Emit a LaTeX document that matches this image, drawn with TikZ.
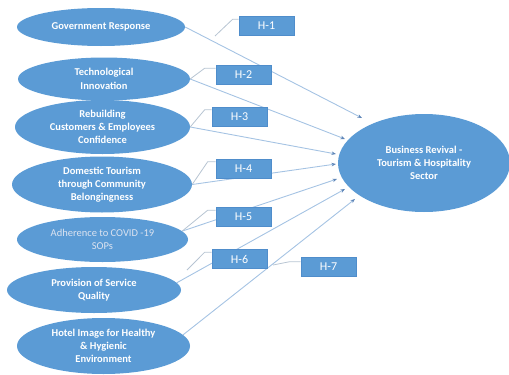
\documentclass[tikz,border=0pt]{standalone}
\usepackage{fontspec}
\setmainfont{Carlito}
\usetikzlibrary{shapes.geometric,arrows.meta,backgrounds}

\definecolor{shapeblue}{HTML}{5B9BD5}
\definecolor{shapeedge}{HTML}{4F8DCB}
\definecolor{linkblue}{HTML}{A5C3E3}
\definecolor{headblue}{HTML}{5F86B8}
\definecolor{leadergrey}{HTML}{B7C4D2}
\definecolor{paletext}{HTML}{DCE3F0}

\begin{document}
\begin{tikzpicture}[x=1pt,y=-1pt,
  factor/.style={ellipse, fill=shapeblue, inner sep=0pt, text=white, align=center,
    font=\fontsize{10.5}{13.3}\selectfont\bfseries},
  hbox/.style={rectangle, fill=shapeblue, draw=shapeedge, line width=0.6pt,
    minimum width=55pt, minimum height=19pt, inner sep=0pt, text=white,
    font=\fontsize{12}{14}\selectfont},
  link/.style={draw=linkblue, line width=0.9pt,
    -{Stealth[length=4.5pt,width=3.5pt,color=headblue]}},
  leader/.style={draw=leadergrey, line width=0.8pt}]

\useasboundingbox (0,0) rectangle (509,375);

% factors on the left
\node[factor, minimum width=168pt, minimum height=38pt] (e1) at (101,27) {Government Response};
\node[factor, minimum width=172pt, minimum height=43pt] (e2) at (104,79) {Technological\\Innovation};
\node[factor, minimum width=175pt, minimum height=54pt] (e3) at (102.5,127) {Rebuilding\\Customers \& Employees\\Confidence};
\node[factor, minimum width=180pt, minimum height=56pt] (e4) at (102,184.5) {Domestic Tourism\\through Community\\Belongingness};
\node[factor, minimum width=171pt, minimum height=45pt, text=paletext,
      font=\fontsize{10.5}{13.3}\selectfont] (e5) at (102.5,239.5) {Adherence to COVID -19\\SOPs};
\node[factor, minimum width=174pt, minimum height=46pt] (e6) at (94,290) {Provision of Service\\Quality};
\node[factor, minimum width=173pt, minimum height=56pt] (e7) at (103.5,346) {Hotel Image for Healthy\\\& Hygienic\\Environment};

% outcome
\node[factor, minimum width=172pt, minimum height=98pt] (big) at (424,163) {Business Revival -\\Tourism \& Hospitality\\Sector};

% hypothesis labels
\node[hbox] (h1) at (266.5,26) {H-1};
\node[hbox] (h2) at (243.5,75) {H-2};
\node[hbox] (h3) at (239.5,116.5) {H-3};
\node[hbox] (h4) at (243.5,168.5) {H-4};
\node[hbox] (h5) at (243.5,217) {H-5};
\node[hbox] (h6) at (239.5,259) {H-6};
\node[hbox] (h7) at (328.5,266.5) {H-7};

% arrow tips and free leader ends
\coordinate (t1) at (362,118);
\coordinate (t2) at (345,139);
\coordinate (t3) at (336,154);
\coordinate (t4) at (336,164);
\coordinate (t5) at (337,179);
\coordinate (t6) at (345,189);
\coordinate (t7) at (355,199);
\coordinate (c1) at (215,36);
\coordinate (c6) at (187,270);
\coordinate (c7) at (273,265);

\begin{pgfonlayer}{background}
  \draw[link] (e1.east) -- (t1);
  \draw[link] (e2.east) -- (t2);
  \draw[link] (e3.east) -- (t3);
  \draw[link] (e4.east) -- (t4);
  \draw[link] (e5.6) -- (t5);
  \draw[link] (e6.5) -- (t6);
  \draw[link] (e7.8) -- (t7);

  \draw[leader] ([yshift=-3pt]h1.north west) -- ++(-6,0) -- (c1);
  \draw[leader] ([yshift=-3pt]h2.north west) -- ++(-11,0) -- (e2.east);
  \draw[leader] ([yshift=-3pt]h3.north west) -- ++(-7,0) -- (e3.east);
  \draw[leader] ([yshift=-3pt]h4.north west) -- ++(-8,0) -- (e4.east);
  \draw[leader] ([yshift=-3pt]h5.north west) -- ++(-8,0) -- (e5.6);
  \draw[leader] ([yshift=-3pt]h6.north west) -- ++(-7,0) -- (c6);
  \draw[leader] ([yshift=-5pt]h7.north west) -- ++(-11,0) -- (c7);
\end{pgfonlayer}
\end{tikzpicture}
\end{document}
